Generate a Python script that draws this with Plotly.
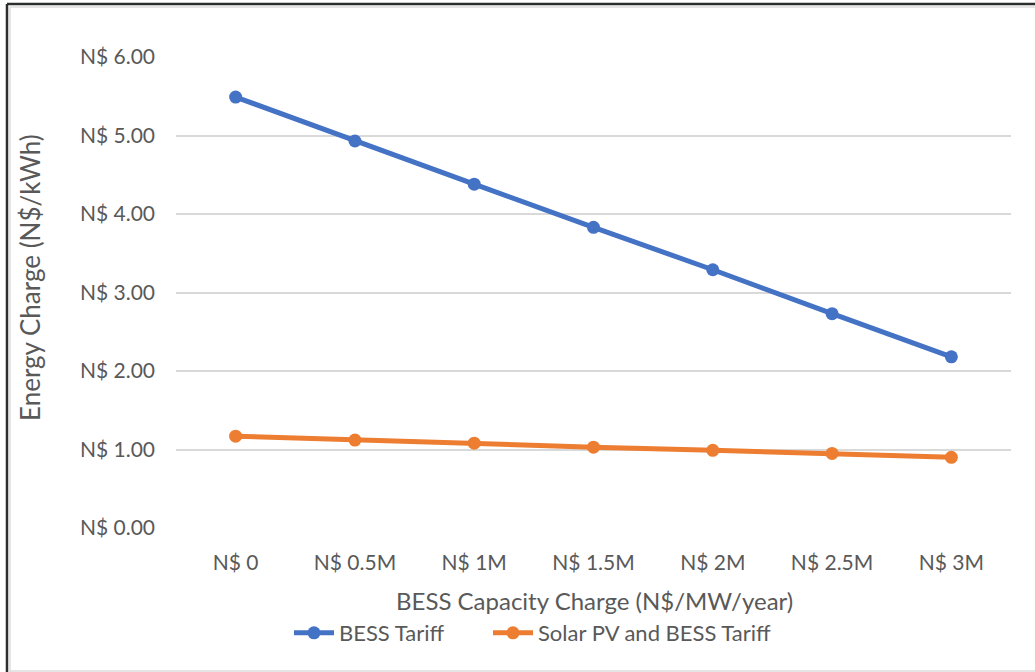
import plotly.graph_objects as go

categories = ["N$ 0", "N$ 0.5M", "N$ 1M", "N$ 1.5M", "N$ 2M", "N$ 2.5M", "N$ 3M"]
bess_tariff = [5.49, 4.93, 4.38, 3.83, 3.29, 2.73, 2.18]
solar_bess_tariff = [1.17, 1.12, 1.08, 1.03, 0.99, 0.95, 0.90]
y_ticks = [0, 1, 2, 3, 4, 5, 6]
y_tick_labels = ["N$ 0.00", "N$ 1.00", "N$ 2.00", "N$ 3.00", "N$ 4.00", "N$ 5.00", "N$ 6.00"]

W, H = 1035, 672
L, R, T, B = 176, 24, 57, 144
PW, PH = W - L - R, H - T - B

def px(x):
    return (x - L) / PW

def py(y):
    return (H - B - y) / PH

FONT = "Lato, 'Open Sans', sans-serif"
GRAY = "#595959"
TICK = 21

fig = go.Figure()
fig.add_trace(go.Scatter(
    x=categories, y=bess_tariff, name="BESS Tariff",
    mode="lines+markers",
    line=dict(color="#4472C4", width=5),
    marker=dict(color="#4472C4", size=13),
    legend="legend",
))
fig.add_trace(go.Scatter(
    x=categories, y=solar_bess_tariff, name="Solar PV and BESS Tariff",
    mode="lines+markers",
    line=dict(color="#ED7D31", width=5),
    marker=dict(color="#ED7D31", size=13),
    legend="legend2",
))

shapes = [
    dict(type="line", xref="paper", yref="paper", x0=px(7), x1=px(1040), y0=py(4), y1=py(4),
         line=dict(color="#2b2f2b", width=2.5)),
    dict(type="line", xref="paper", yref="paper", x0=px(7), x1=px(7), y0=py(4), y1=py(680),
         line=dict(color="#2b2f2b", width=2.5)),
    dict(type="line", xref="paper", yref="paper", x0=px(10), x1=px(1040), y0=py(7), y1=py(7),
         line=dict(color="#dcdcdc", width=1.5)),
    dict(type="line", xref="paper", yref="paper", x0=px(10), x1=px(10), y0=py(7), y1=py(680),
         line=dict(color="#dcdcdc", width=1.5)),
    dict(type="line", xref="paper", yref="paper", x0=px(10), x1=px(1040), y0=py(671), y1=py(671),
         line=dict(color="#dcdcdc", width=1.5)),
]

annotations = [
    dict(text="BESS Capacity Charge (N$/MW/year)", xref="paper", yref="paper",
         x=px(594), y=py(600), xanchor="center", yanchor="middle", showarrow=False,
         font=dict(size=24, color=GRAY, family=FONT)),
    dict(text="Energy Charge (N$/kWh)", xref="paper", yref="paper",
         x=px(30), y=py(278), xanchor="center", yanchor="middle", showarrow=False,
         textangle=-90, font=dict(size=26, color=GRAY, family=FONT)),
]

legend_common = dict(orientation="h", xref="container", xanchor="left",
                     yref="container", y=(H - 633) / H, yanchor="middle",
                     font=dict(size=22, color=GRAY), itemwidth=40,
                     bgcolor="rgba(0,0,0,0)")

fig.update_layout(
    width=W, height=H,
    margin=dict(l=L, r=R, t=T, b=B),
    paper_bgcolor="white", plot_bgcolor="white",
    font=dict(family=FONT, color=GRAY, size=TICK),
    showlegend=True,
    legend=dict(x=289 / W, **legend_common),
    legend2=dict(x=488 / W, **legend_common),
    xaxis=dict(
        type="category", range=[-0.5, 6.5],
        showgrid=False, showline=False, zeroline=False, ticks="",
        ticklabelstandoff=20,
        tickfont=dict(size=TICK, color=GRAY),
    ),
    yaxis=dict(
        range=[0, 6], tickvals=y_ticks, ticktext=y_tick_labels,
        showgrid=True, gridcolor="#d9d9d9", gridwidth=1.5,
        zeroline=False, showline=False, ticks="", ticklabelstandoff=20,
        tickfont=dict(size=TICK, color=GRAY),
    ),
    shapes=shapes,
    annotations=annotations,
)
fig.update_xaxes(automargin=False)
fig.update_yaxes(automargin=False)

fig.write_html("out.html")
